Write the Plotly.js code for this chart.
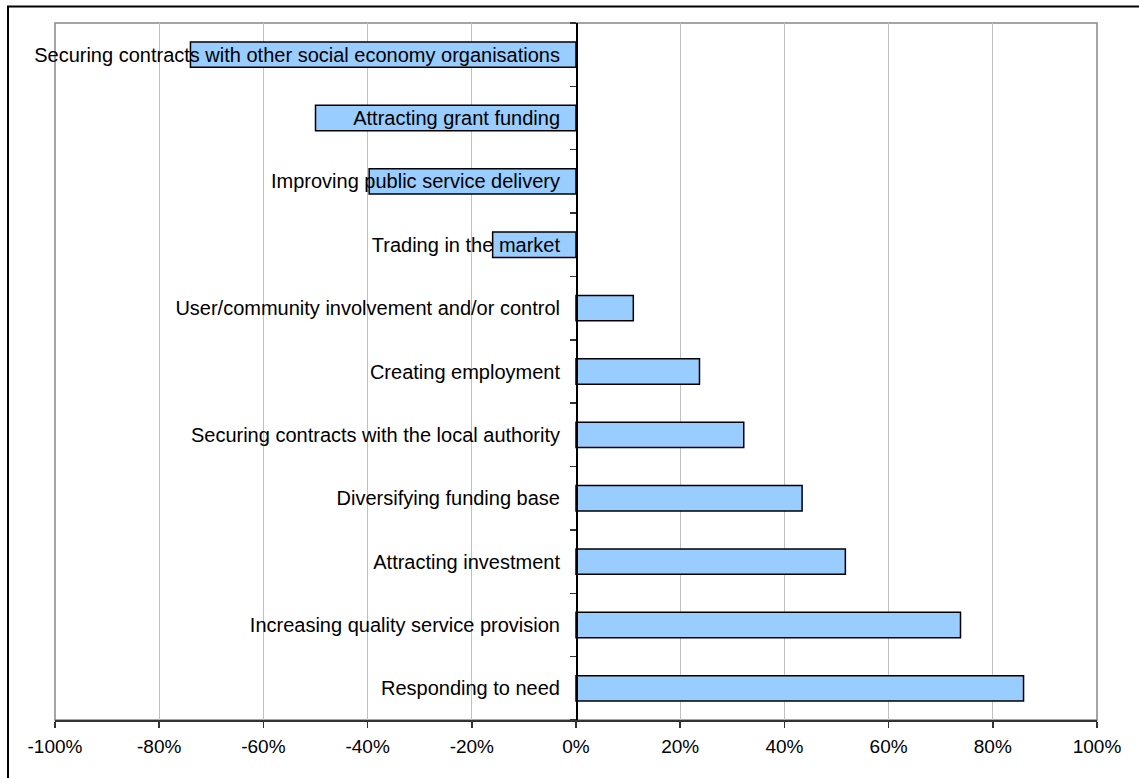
<!DOCTYPE html>
<html>
<head>
<meta charset="utf-8">
<script src="https://cdn.plot.ly/plotly-3.0.1.min.js"></script>
<style>
html,body{margin:0;padding:0;background:#fff;}
#chart{width:1139px;height:778px;}
</style>
</head>
<body>
<div id="chart"></div>
<script>
const categories = [
  "Responding to need",
  "Increasing quality service provision",
  "Attracting investment",
  "Diversifying funding base",
  "Securing contracts with the local authority",
  "Creating employment",
  "User/community involvement and/or control",
  "Trading in the market",
  "Improving public service delivery",
  "Attracting grant funding",
  "Securing contracts with other social economy organisations"
];
const values = [0.859, 0.738, 0.517, 0.434, 0.322, 0.237, 0.110, -0.160, -0.397, -0.500, -0.740];
const xTickVals = [-1, -0.8, -0.6, -0.4, -0.2, 0, 0.2, 0.4, 0.6, 0.8, 1];
const xTickText = ["-100%", "-80%", "-60%", "-40%", "-20%", "0%", "20%", "40%", "60%", "80%", "100%"];

const trace = {
  type: 'bar',
  orientation: 'h',
  y: categories,
  x: values,
  marker: {color: '#99CCFF', line: {color: '#000000', width: 1.5}},
  hoverinfo: 'skip'
};

const layout = {
  width: 1139, height: 778,
  margin: {l: 55, r: 42, t: 23, b: 58, pad: 0},
  paper_bgcolor: '#ffffff',
  plot_bgcolor: '#ffffff',
  showlegend: false,
  bargap: 0.6,
  font: {family: 'Liberation Sans, Arial, sans-serif', size: 20, color: '#000'},
  xaxis: {
    range: [-1, 1],
    tickvals: xTickVals,
    ticktext: xTickText,
    showgrid: true,
    gridcolor: '#c0c0c0',
    gridwidth: 1,
    zeroline: false,
    showline: true,
    linecolor: '#333',
    linewidth: 1.5,
    ticks: 'outside',
    ticklen: 6,
    tickcolor: '#333',
    tickwidth: 1.5,
    ticklabelstandoff: 3,
    tickfont: {size: 19},
    fixedrange: true
  },
  yaxis: {
    type: 'category',
    anchor: 'free',
    position: 0.5,
    showgrid: false,
    zeroline: false,
    showline: true,
    linecolor: '#000',
    linewidth: 1.5,
    ticks: 'outside',
    tickson: 'boundaries',
    ticklen: 6,
    tickcolor: '#333',
    tickwidth: 1.5,
    ticklabelstandoff: 12,
    tickfont: {size: 20},
    range: [-0.5, categories.length - 0.5],
    fixedrange: true
  },
  shapes: [
    {type: 'rect', xref: 'paper', yref: 'paper', x0: 0, x1: 1, y0: 0, y1: 1,
     line: {color: '#888888', width: 1.5}, fillcolor: 'rgba(0,0,0,0)', layer: 'below'},
    {type: 'rect', xref: 'paper', yref: 'paper', x0: -0.0451, x1: 1.1, y0: -0.15, y1: 1.0235,
     line: {color: '#000', width: 2}, fillcolor: 'rgba(0,0,0,0)'}
  ]
};

Plotly.newPlot('chart', [trace], layout, {displayModeBar: false, staticPlot: true});
</script>
</body>
</html>
